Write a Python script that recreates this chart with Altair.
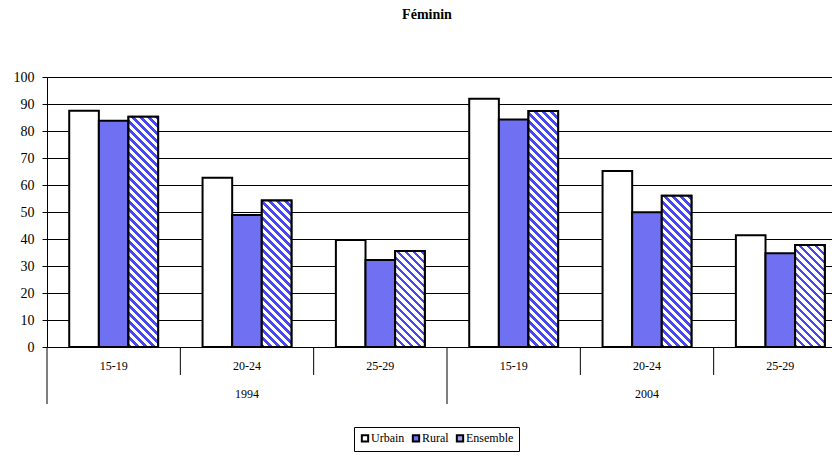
import math
import altair as alt
import pandas as pd

years = ["1994", "2004"]
ages = ["15-19", "20-24", "25-29"]
series = ["Urbain", "Rural", "Ensemble"]
urbain = [87.5, 62.7, 39.6, 91.9, 65.2, 41.4]
rural = [83.8, 48.9, 32.2, 84.3, 49.9, 34.7]
ensemble = [85.3, 54.3, 35.6, 87.4, 56.0, 37.8]

FONT = "Liberation Serif, Times New Roman, serif"
W, H = 800, 270
BAND = W / 6
BAR_W = BAND / 4.5
PX = H / 100.0
PERIOD = 5.66
FRAC = 0.45
BLUE = "#4848f0"
RURAL_FILL = "#7070f2"
ENS_FILL = "#a0a0f6"

grp_order = [f"{y} {a}" for y in years for a in ages]
rows = []
for yi, y in enumerate(years):
    for ai, a in enumerate(ages):
        i = yi * 3 + ai
        for s, vals in zip(series, [urbain, rural, ensemble]):
            rows.append({"grp": f"{y} {a}", "year": y, "age": a,
                         "series": s, "value": vals[i]})
df = pd.DataFrame(rows)

xscale = alt.Scale(domain=grp_order, paddingInner=0, paddingOuter=0)
offscale = alt.Scale(domain=series, paddingInner=0, paddingOuter=0.75)
yscale = alt.Scale(domain=[0, 100], nice=False)

xaxis = alt.Axis(labelExpr="split(datum.label, ' ')[1]", title=None,
                 labelFont=FONT, labelFontSize=12, labelColor="black",
                 labelAngle=0, labelBaseline="middle", labelPadding=18,
                 ticks=False, tickSize=0, domainColor="black",
                 domainWidth=1, grid=False)
yaxis = alt.Axis(values=list(range(0, 101, 10)), title=None, labelFont=FONT,
                 labelFontSize=14, labelColor="black", tickColor="black",
                 tickSize=5, labelPadding=8, domainColor="black",
                 grid=True, gridColor="black", gridWidth=1, gridOpacity=1)


def X(**kw):
    return alt.X("grp:N", scale=xscale, axis=xaxis, **kw)


def Y():
    return alt.Y("value:Q", scale=yscale, axis=yaxis)


base = alt.Chart(df)

bars = base.mark_bar(stroke="black", strokeWidth=2).encode(
    x=X(),
    xOffset=alt.XOffset("series:N", scale=offscale),
    y=Y(),
    fill=alt.Fill("series:N",
                  scale=alt.Scale(domain=series,
                                  range=["white", RURAL_FILL, ENS_FILL]),
                  legend=alt.Legend(title=None, orient="none", legendX=307,
                                    legendY=350, direction="horizontal",
                                    strokeColor="black", fillColor="white",
                                    padding=5, symbolType="square",
                                    symbolSize=40, symbolStrokeColor="black",
                                    symbolStrokeWidth=2, labelFont=FONT,
                                    labelFontSize=12, labelColor="black",
                                    columnPadding=3, labelOffset=0)),
)


def stripes(v):
    w = BAR_W
    h = v * PX
    k = (w + h) / (w * w + h * h)
    p, q = w * k, h * k
    n = (w + h) / math.sqrt(2) / PERIOD
    stops = []
    i = 0
    while i < n:
        a = i / n
        b = min((i + FRAC) / n, 1.0)
        c = min((i + 1) / n, 1.0)
        stops += [{"offset": a, "color": BLUE}, {"offset": b, "color": BLUE},
                  {"offset": b, "color": "white"}, {"offset": c, "color": "white"}]
        i += 1
    return {"gradient": "linear", "x1": 0, "y1": 1, "x2": p, "y2": 1 - q,
            "stops": stops}


layers = [bars]
for g, v in zip(grp_order, ensemble):
    lay = base.transform_filter(
        f"datum.grp == '{g}' && datum.series == 'Ensemble'"
    ).mark_bar(stroke="black", strokeWidth=2, fill=stripes(v)).encode(
        x=X(),
        xOffset=alt.XOffset("series:N", scale=offscale),
        y=Y(),
    )
    layers.append(lay)

sep = pd.DataFrame({"grp": grp_order,
                    "long": [a == ages[0] for y in years for a in ages]})
short_rules = alt.Chart(sep).transform_filter("!datum.long").mark_rule(
    color="black", strokeWidth=1).encode(
    x=X(bandPosition=0), y=alt.value(H), y2=alt.value(H + 28))
long_rules = alt.Chart(sep).transform_filter("datum.long").mark_rule(
    color="black", strokeWidth=1).encode(
    x=X(bandPosition=0), y=alt.value(H), y2=alt.value(H + 57))

ylab = pd.DataFrame({"grp": [f"{y} {ages[1]}" for y in years], "year": years})
year_text = alt.Chart(ylab).mark_text(font=FONT, fontSize=12, color="black",
                                      baseline="middle").encode(
    x=X(bandPosition=0.5), y=alt.value(H + 46.5), text="year:N")

# the plot runs past the right edge of the page, as in the original;
# a negative right padding keeps the svg inside the window
chart = alt.layer(*layers, short_rules, long_rules, year_text).properties(
    width=W, height=H,
    autosize=alt.AutoSizeParams(type="none"),
    padding={"left": 39, "top": 69, "right": -15, "bottom": 105},
    title=alt.TitleParams("Féminin", font=FONT, fontSize=14, fontWeight="bold",
                          anchor="middle", dx=-20, offset=48, color="black"),
).configure_view(stroke=None).configure(background="white")

chart.save("out.html", embed_options={"renderer": "svg", "actions": False})
